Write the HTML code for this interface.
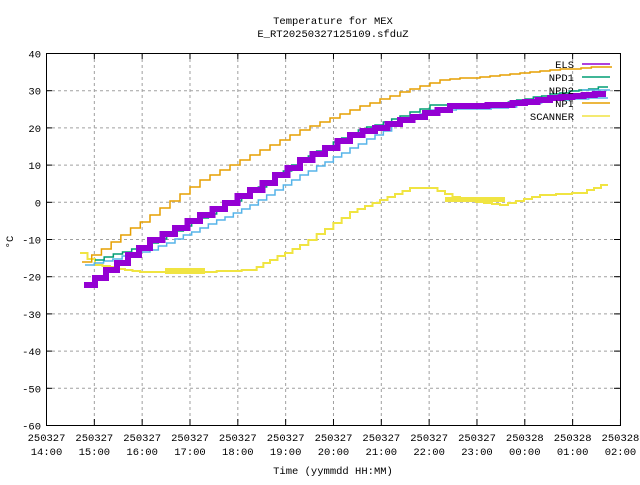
<!DOCTYPE html>
<html><head><meta charset="utf-8"><style>
body{margin:0;background:#fff;width:640px;height:480px;overflow:hidden}
svg text{font-family:"Liberation Mono",monospace;font-size:10.5px;fill:#000}
</style></head><body>
<svg id="s" width="640" height="480" xmlns="http://www.w3.org/2000/svg">
<text x="333" y="24" text-anchor="middle">Temperature for MEX</text>
<text x="333" y="37" text-anchor="middle">E_RT20250327125109.sfduZ</text>
<g id="grid" stroke="#a0a0a0" stroke-dasharray="3,3" stroke-width="1"></g>
<g id="ticks" stroke="#000" stroke-width="1"></g>
<g id="lbl"></g>
<g id="data" fill="none"></g>
<rect x="46.5" y="53.5" width="574" height="372" fill="none" stroke="#000"/>
<text x="13" y="242" transform="rotate(-90 13 242)" text-anchor="middle">°C</text>
<text x="333" y="474" text-anchor="middle">Time (yymmdd HH:MM)</text>
<g text-anchor="end">
<text x="574" y="68">ELS</text><text x="574" y="81">NPD1</text><text x="574" y="94">NPD2</text><text x="574" y="107">NPI</text><text x="574" y="120">SCANNER</text>
</g>
<line x1="582" y1="64" x2="610" y2="64" stroke="#9400d3" stroke-width="1.5"/>
<line x1="582" y1="77" x2="610" y2="77" stroke="#009e73" stroke-width="1.5"/>
<line x1="582" y1="90" x2="610" y2="90" stroke="#56b4e9" stroke-width="1.5"/>
<line x1="582" y1="103" x2="610" y2="103" stroke="#e69f00" stroke-width="1.5"/>
<line x1="582" y1="116" x2="610" y2="116" stroke="#f0e442" stroke-width="1.5"/>
</svg>
<script>
const NS="http://www.w3.org/2000/svg";
function el(p,t,a,txt){const e=document.createElementNS(NS,t);for(const k in a)e.setAttribute(k,a[k]);if(txt!==undefined)e.textContent=txt;document.getElementById(p).appendChild(e);return e;}
for(let i=0;i<=10;i++){const v=40-i*10;const y=53.5+i*37.2;
 if(i>0&&i<10)el('grid','line',{x1:46,x2:620,y1:y,y2:y});
 el('ticks','line',{x1:46,x2:52,y1:y,y2:y});el('ticks','line',{x1:614,x2:620,y1:y,y2:y});
 el('lbl','text',{x:41,y:y+4,'text-anchor':'end'},String(v));}
const days=['250327','250327','250327','250327','250327','250327','250327','250327','250327','250327','250328','250328','250328'];
for(let i=0;i<=12;i++){const x=46.5+i*47.83;
 if(i>0&&i<12)el('grid','line',{x1:x,x2:x,y1:53,y2:425});
 el('ticks','line',{x1:x,x2:x,y1:425,y2:419});el('ticks','line',{x1:x,x2:x,y1:53,y2:59});
 const h=(14+i)%24;el('lbl','text',{x:x,y:441,'text-anchor':'middle'},days[i]);
 el('lbl','text',{x:x,y:455,'text-anchor':'middle'},(h<10?'0':'')+h+':00');}
function step(pts,n){let out=[];for(let i=0;i<pts.length-1;i++){const [x0,y0]=pts[i],[x1,y1]=pts[i+1];const k=Math.max(1,Math.round((x1-x0)/n));
 for(let j=0;j<k;j++){const xa=x0+(x1-x0)*j/k,xb=x0+(x1-x0)*(j+1)/k,y=Math.round(y0+(y1-y0)*j/k);out.push(xa+','+y,xb+','+y);}}return out.join(' ');}
function line(pts,c,w,n){el('data','polyline',{points:step(pts,n),stroke:c,'stroke-width':w});}
line([[80,253],[95,265],[140,272],[200,272],[250,270],[270,260],[300,245],[350,212],[380,200],[410,188],[430,188],[460,200],[500,205],[540,195],[580,193],[608,182]],'#f0e442',2,8);
el('data','rect',{x:165,y:268,width:40,height:6,fill:'#f0e442'});
el('data','rect',{x:445,y:197,width:60,height:5,fill:'#f0e442'});
line([[85,265],[150,250],[200,228],[250,205],[300,175],[350,148],[400,122],[430,110],[500,108],[550,100],[608,97]],'#56b4e9',1.5,9);
line([[95,260],[150,243],[200,218],[250,192],[300,160],[350,133],[400,116],[430,105],[500,103],[550,94],[608,86]],'#009e73',1.5,9);
line([[84,285],[150,240],[200,215],[250,190],[300,160],[350,135],[400,120],[450,106],[500,105],[550,98],[606,93]],'#9400d3',6,12);
line([[82,262],[150,215],[200,180],[260,150],[300,130],[350,110],[400,92],[440,80],[500,75],[550,70],[612,66]],'#e69f00',1.5,10);
</script>
</body></html>
